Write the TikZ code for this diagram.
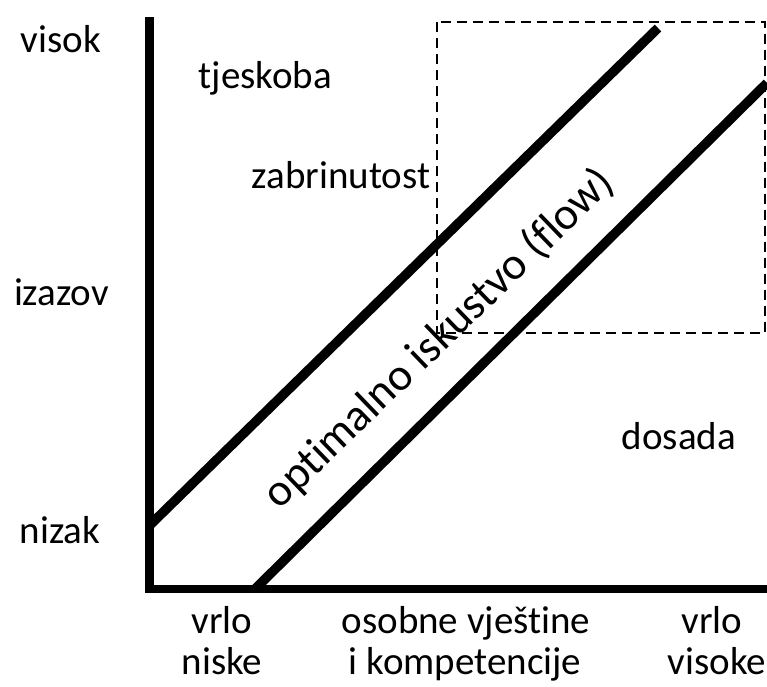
\documentclass[tikz,border=0pt]{standalone}
\usepackage{fontspec}
\setmainfont{Carlito}[RawFeature={-liga;-clig;-dlig}]
\begin{document}
\begin{tikzpicture}[x=1pt,y=-1pt,
  lbl/.style={font=\fontsize{39}{46}\selectfont, inner sep=0pt, anchor=base},
  flowlbl/.style={font=\fontsize{45.5}{52}\selectfont, inner sep=0pt, anchor=base},
  axisline/.style={line width=8.5pt},
  diag/.style={line width=9.5pt},
  zone/.style={line width=2.2pt, dash pattern=on 10pt off 6pt}]
\useasboundingbox (0,0) rectangle (767,686);
% axes
\coordinate (ytop) at (149.5,17);
\coordinate (ybot) at (149.5,593);
\coordinate (xstart) at (145.5,589);
\coordinate (xend) at (767,589);
\draw[axisline] (ytop) -- (ybot);
\draw[axisline] (xstart) -- (xend);
% dashed zone
\draw[zone] (437,22) rectangle (765,333);
% diagonals
\coordinate (a1) at (150,525);
\coordinate (a2) at (658,28);
\coordinate (b1) at (255,589);
\coordinate (b2) at (767,83);
\draw[diag] (a1) -- (a2);
\draw[diag] (b1) -- (b2);
% labels
\node[lbl] (visok) at (61,52) {visok};
\node[lbl] (izazov) at (61.5,305) {izazov};
\node[lbl] (nizak) at (60,543) {nizak};
\node[lbl] (tjeskoba) at (265.5,88) {tjeskoba};
\node[lbl] (zabrinutost) at (341,188) {zabrinutost};
\node[lbl] (dosada) at (679,449) {dosada};
\node[flowlbl, rotate=44] (flow) at (448,348) {optimalno iskustvo (flow)};
\node[lbl] (vrlo1) at (222,633) {vrlo};
\node[lbl] (niske) at (222,674) {niske};
\node[lbl] (osobne) at (466,633) {osobne vještine};
\node[lbl] (kompet) at (465,674) {i kompetencije};
\node[lbl] (vrlo2) at (712,633) {vrlo};
\node[lbl] (visoke) at (717,674) {visoke};
\end{tikzpicture}
\end{document}
